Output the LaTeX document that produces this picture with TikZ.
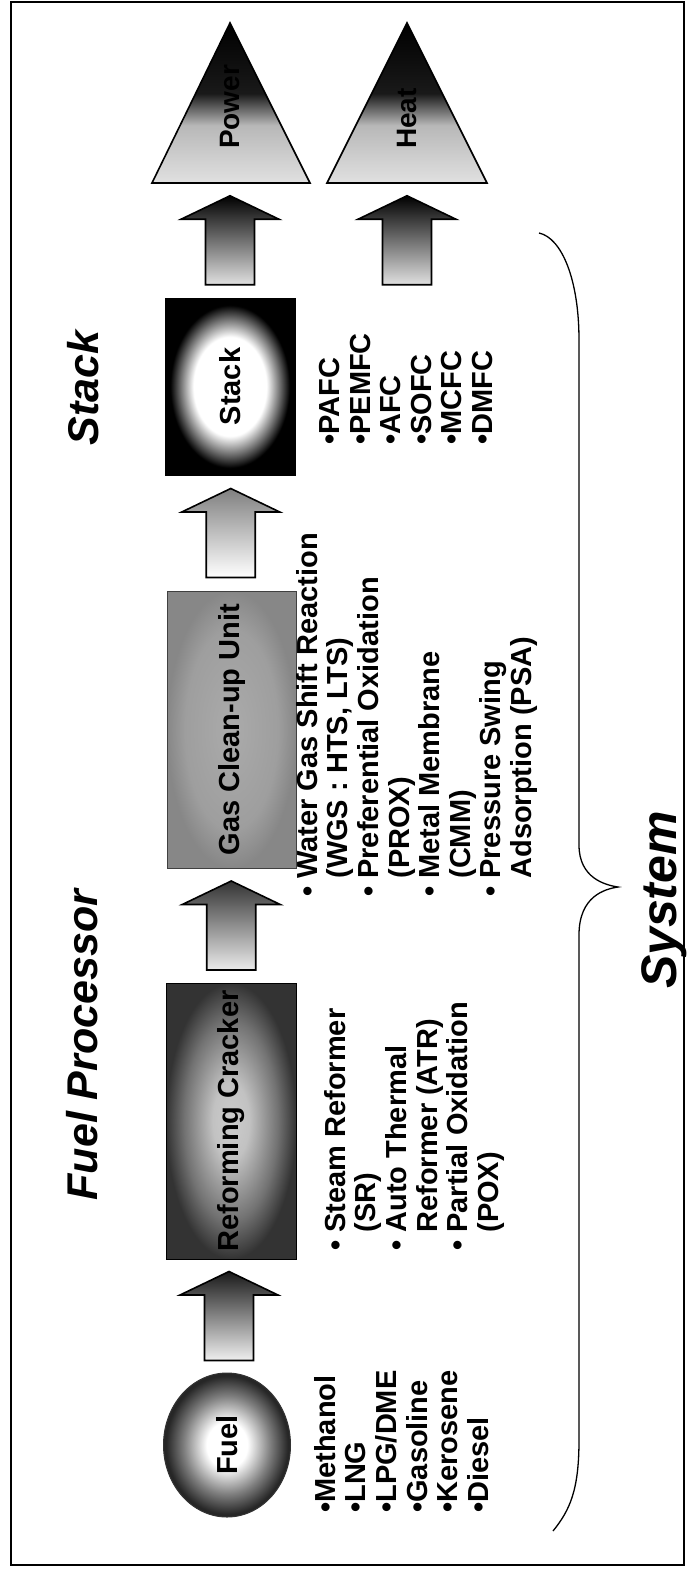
\documentclass[tikz,border=0pt]{standalone}
\usepackage{fontspec}
\setmainfont{Liberation Sans}
\usetikzlibrary{calc, shapes.geometric}
\pgfdeclareradialshading{fuelglow}{\pgfpointorigin}{color(0bp)=(white); color(8bp)=(white); color(17bp)=(black!50); color(24bp)=(black!85); color(50bp)=(black!85)}
\pgfdeclareradialshading{reformglow}{\pgfpointorigin}{color(0bp)=(black!20); color(7bp)=(black!24); color(18bp)=(black!55); color(25bp)=(black!80); color(50bp)=(black!80)}
\pgfdeclareradialshading{gasglow}{\pgfpointorigin}{color(0bp)=(black!33); color(18bp)=(black!38); color(25bp)=(black!47); color(50bp)=(black!47)}
\pgfdeclareradialshading{stackglow}{\pgfpointorigin}{color(0bp)=(white); color(14bp)=(white); color(19bp)=(black!55); color(23bp)=(black); color(50bp)=(black)}
\pgfdeclareverticalshading{conefade}{100bp}{color(0bp)=(black!12); color(25bp)=(black!12); color(43bp)=(black!28); color(53bp)=(black!90); color(75bp)=(black); color(100bp)=(black)}
\tikzset{
  stage/.style={
    draw=black, line width=1pt, rotate=90, inner sep=0pt, shade,
    font=\fontsize{29}{30.6}\selectfont\bfseries
  },
  fuelbub/.style={stage, ellipse, draw=black!80, shading=fuelglow,
    minimum width=144pt, minimum height=127pt},
  reformbox/.style={stage, shading=reformglow,
    minimum width=276pt, minimum height=130pt},
  gasbox/.style={stage, draw=black!75, shading=gasglow,
    minimum width=277pt, minimum height=129pt},
  stackbox/.style={stage, shading=stackglow,
    minimum width=177pt, minimum height=130pt},
  itemlist/.style={
    rotate=90, anchor=north west, align=left, inner sep=0pt,
    font=\fontsize{29}{30.6}\selectfont\bfseries
  },
  heading/.style={
    rotate=90, anchor=base, inner sep=0pt,
    font=\fontsize{43}{48}\selectfont\bfseries\itshape
  },
  flow/.style={draw=black, line width=1.6pt, line join=miter},
  cone/.style={draw=black, line width=1.6pt, shade, shading=conefade},
  conelabel/.style={rotate=90, anchor=west, inner sep=0pt,
    font=\fontsize{28}{30.6}\selectfont\bfseries}
}
\newcommand{\flowarrow}[2]{%
  \path[flow, #1, shift={#2}] (-24.5,44.5) -- (-24.5,-21) -- (-49,-21) -- (0,-44.5)
    -- (49,-21) -- (24.5,-21) -- (24.5,44.5) -- cycle;}

\begin{document}
\begin{tikzpicture}[x=1pt, y=-1pt]
  \useasboundingbox (0,0) rectangle (691,1569);
  \draw[line width=1.5pt] (11,2) rectangle (684,1565);

  \node[fuelbub] (fuel) at (227,1445) {Fuel};
  \node[reformbox] (reform) at (231,1121) {Reforming Cracker};
  \node[gasbox] (gas) at (231.5,729.5) {Gas Clean-up Unit};
  \node[stackbox] (stack) at (230,386.5) {Stack};

  \draw[cone] (152,183) -- (230,23) -- (310,183) -- cycle;
  \draw[cone] (327,183) -- (407,23) -- (487,183) -- cycle;
  \coordinate (powbase) at (230,183);
  \coordinate (heatbase) at (407,183);
  \node[conelabel] (power) at (230,149) {Power};
  \node[conelabel] (heat) at (407,149) {Heat};

  \flowarrow{top color=black!90, middle color=black!35, bottom color=black!6}{($(fuel.east)!.5!(reform.west)$)}
  \flowarrow{top color=black!80, middle color=black!30, bottom color=black!8}{($(reform.east)!.5!(gas.west)$)}
  \flowarrow{top color=black!50, middle color=black!8, bottom color=white}{($(gas.east)!.5!(stack.west)$)}
  \flowarrow{top color=black, middle color=black!55, bottom color=black!12}{($(stack.east)!.5!(powbase)$)}
  \flowarrow{top color=black, middle color=black!55, bottom color=black!12}{($(stack.east -| heatbase)!.5!(heatbase)$)}

  \node[itemlist] (fuellist) at (314,1513) {•Methanol\\•LNG\\•LPG/DME\\•Gasoline\\•Kerosene\\•Diesel};
  \node[itemlist] (reformlist) at (324,1251) {• Steam Reformer\\\hphantom{• }(SR)\\• Auto Thermal\\\hphantom{• }Reformer (ATR)\\• Partial Oxidation\\\hphantom{• }(POX)};
  \node[itemlist] (gaslist) at (296,897) {• Water Gas Shift Reaction\\\hphantom{• }(WGS : HTS, LTS)\\• Preferential Oxidation\\\hphantom{• }(PROX)\\• Metal Membrane\\\hphantom{• }(CMM)\\• Pressure Swing\\\hphantom{• }Adsorption (PSA)};
  \node[itemlist] (stacklist) at (319,445) {•PAFC\\•PEMFC\\•AFC\\•SOFC\\•MCFC\\•DMFC};

  \node[heading] (fp) at (97,1045) {Fuel Processor};
  \node[heading] (stackhead) at (98,388) {Stack};
  \node[heading, font=\fontsize{50}{55}\selectfont\bfseries\itshape] (sys) at (676,900) {System};

  \draw[line width=1.3pt] (539,233) .. controls (562,238) and (579,280) .. (579,340)
    -- (579,845) .. controls (579,878) and (605,885) .. (618,887)
    .. controls (605,889) and (579,896) .. (579,935)
    -- (579,1440) .. controls (579,1490) and (570,1510) .. (553,1531);
\end{tikzpicture}
\end{document}
